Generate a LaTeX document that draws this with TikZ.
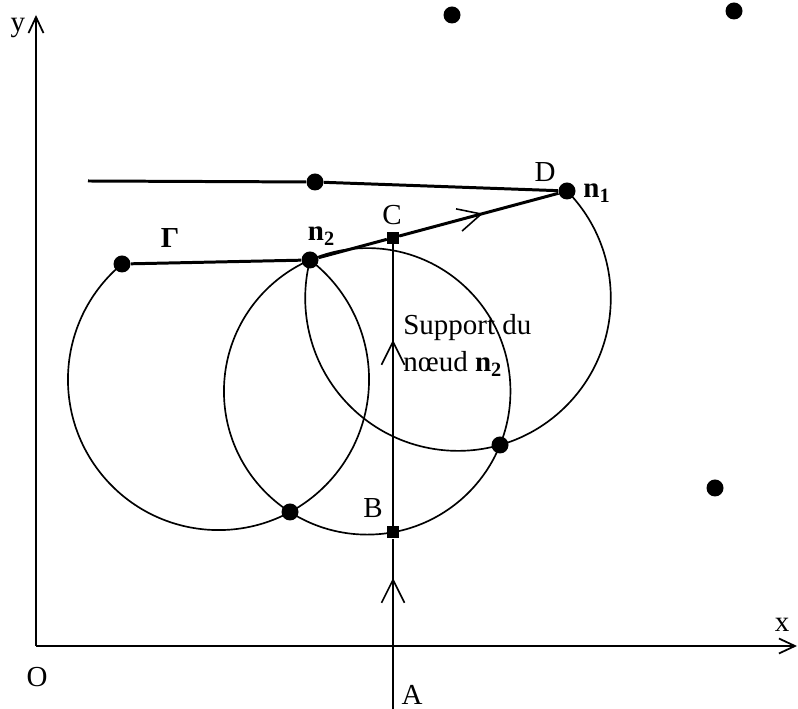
\documentclass[tikz,border=0pt]{standalone}
\usepackage{fontspec}
\setmainfont{Liberation Serif}
\usepackage{tikz}
\usetikzlibrary{arrows.meta,calc}

\tikzset{
  pt/.style={circle,fill,inner sep=0pt,minimum size=3.4mm},
  sq/.style={rectangle,fill,inner sep=0pt,minimum size=2.4mm},
  curve/.style={line width=0.95pt},
  bold/.style={line width=1.7pt},
  barb/.style={-{Straight Barb[length=4.6mm,width=4.6mm]},line width=0.9pt},
  axis/.style={line width=1pt,-{Straight Barb[length=3.2mm,width=3mm]}},
}

\begin{document}
\begin{tikzpicture}[x=1cm,y=1cm,font=\fontsize{16.5}{20}\selectfont]
  \useasboundingbox (-0.72,-1.26) rectangle (15.24,12.92);
  % axes
  \coordinate (O) at (0,0);
  \coordinate (ytip) at (0,12.62);
  \coordinate (xtip) at (15.22,0);
  \draw[axis] (O) -- (ytip);
  \draw[axis] (O) -- (xtip);
  \node (ylab) at (-0.36,12.36) {y};
  \node (xlab) at (14.92,0.42) {x};
  \node (olab) at (0.02,-0.62) {O};
  % points
  \node[pt] (p1) at (8.32,12.62) {};
  \node[pt] (p2) at (13.96,12.70) {};
  \node[pt] (p3) at (13.58,3.16) {};
  \node[pt] (m) at (5.58,9.28) {};
  \node[pt] (n1) at (10.62,9.10) {};
  \node[pt] (g0) at (1.72,7.64) {};
  \node[pt] (n2) at (5.48,7.72) {};
  \node[pt] (e) at (9.28,4.02) {};
  \node[pt] (f) at (5.08,2.68) {};
  \node[sq] (C) at (7.14,8.166) {};
  \node[sq] (B) at (7.14,2.27) {};
  % circles
  \draw[curve] (g0.center) arc[start angle=129.87,end angle=412.56,radius=3.011];
  \draw[curve] (6.624,5.093) circle[radius=2.865];
  \draw[curve] (n1.center) arc[start angle=44.49,end angle=-194.43,radius=3.056];
  % polylines
  \coordinate (t0) at (1.04,9.30);
  \draw[bold] (t0) -- (m) -- (n1);
  \draw[bold] (g0) -- (n2);
  \draw[bold] (n2) -- (C) -- (n1);
  % support of n2
  \coordinate (A0) at (7.14,-1.26);
  \coordinate (A1) at (7.14,-0.52);
  \draw[bold] (A0) -- (A1);
  \draw[curve] (A1) -- (B) -- (C);
  \coordinate (a1) at (7.14,1.36);
  \coordinate (a2) at (7.14,6.12);
  \coordinate (a3) at ($(n2)!0.673!(n1)$);
  \draw[barb] (A1) -- (a1);
  \draw[barb] (B) -- (a2);
  \draw[barb] (n2) -- (a3);
  % labels
  \node (lA) at (7.52,-0.98) {A};
  \node (lB) at (6.74,2.76) {B};
  \node (lC) at (7.12,8.62) {C};
  \node (lD) at (10.18,9.48) {D};
  \node (ln1) at (11.22,9.06) {\textbf{n}\textsubscript{\textbf{1}}};
  \node (ln2) at (5.71,8.20) {\textbf{n}\textsubscript{\textbf{2}}};
  \node (lgam) at (2.68,8.16) {\textbf{Γ}};
  \node[anchor=base west,inner sep=0pt] (sup1) at (7.34,6.22) {Support du};
  \node[anchor=base west,inner sep=0pt] (sup2) at (7.34,5.48) {nœud \textbf{n}\textsubscript{\textbf{2}}};
\end{tikzpicture}
\end{document}
